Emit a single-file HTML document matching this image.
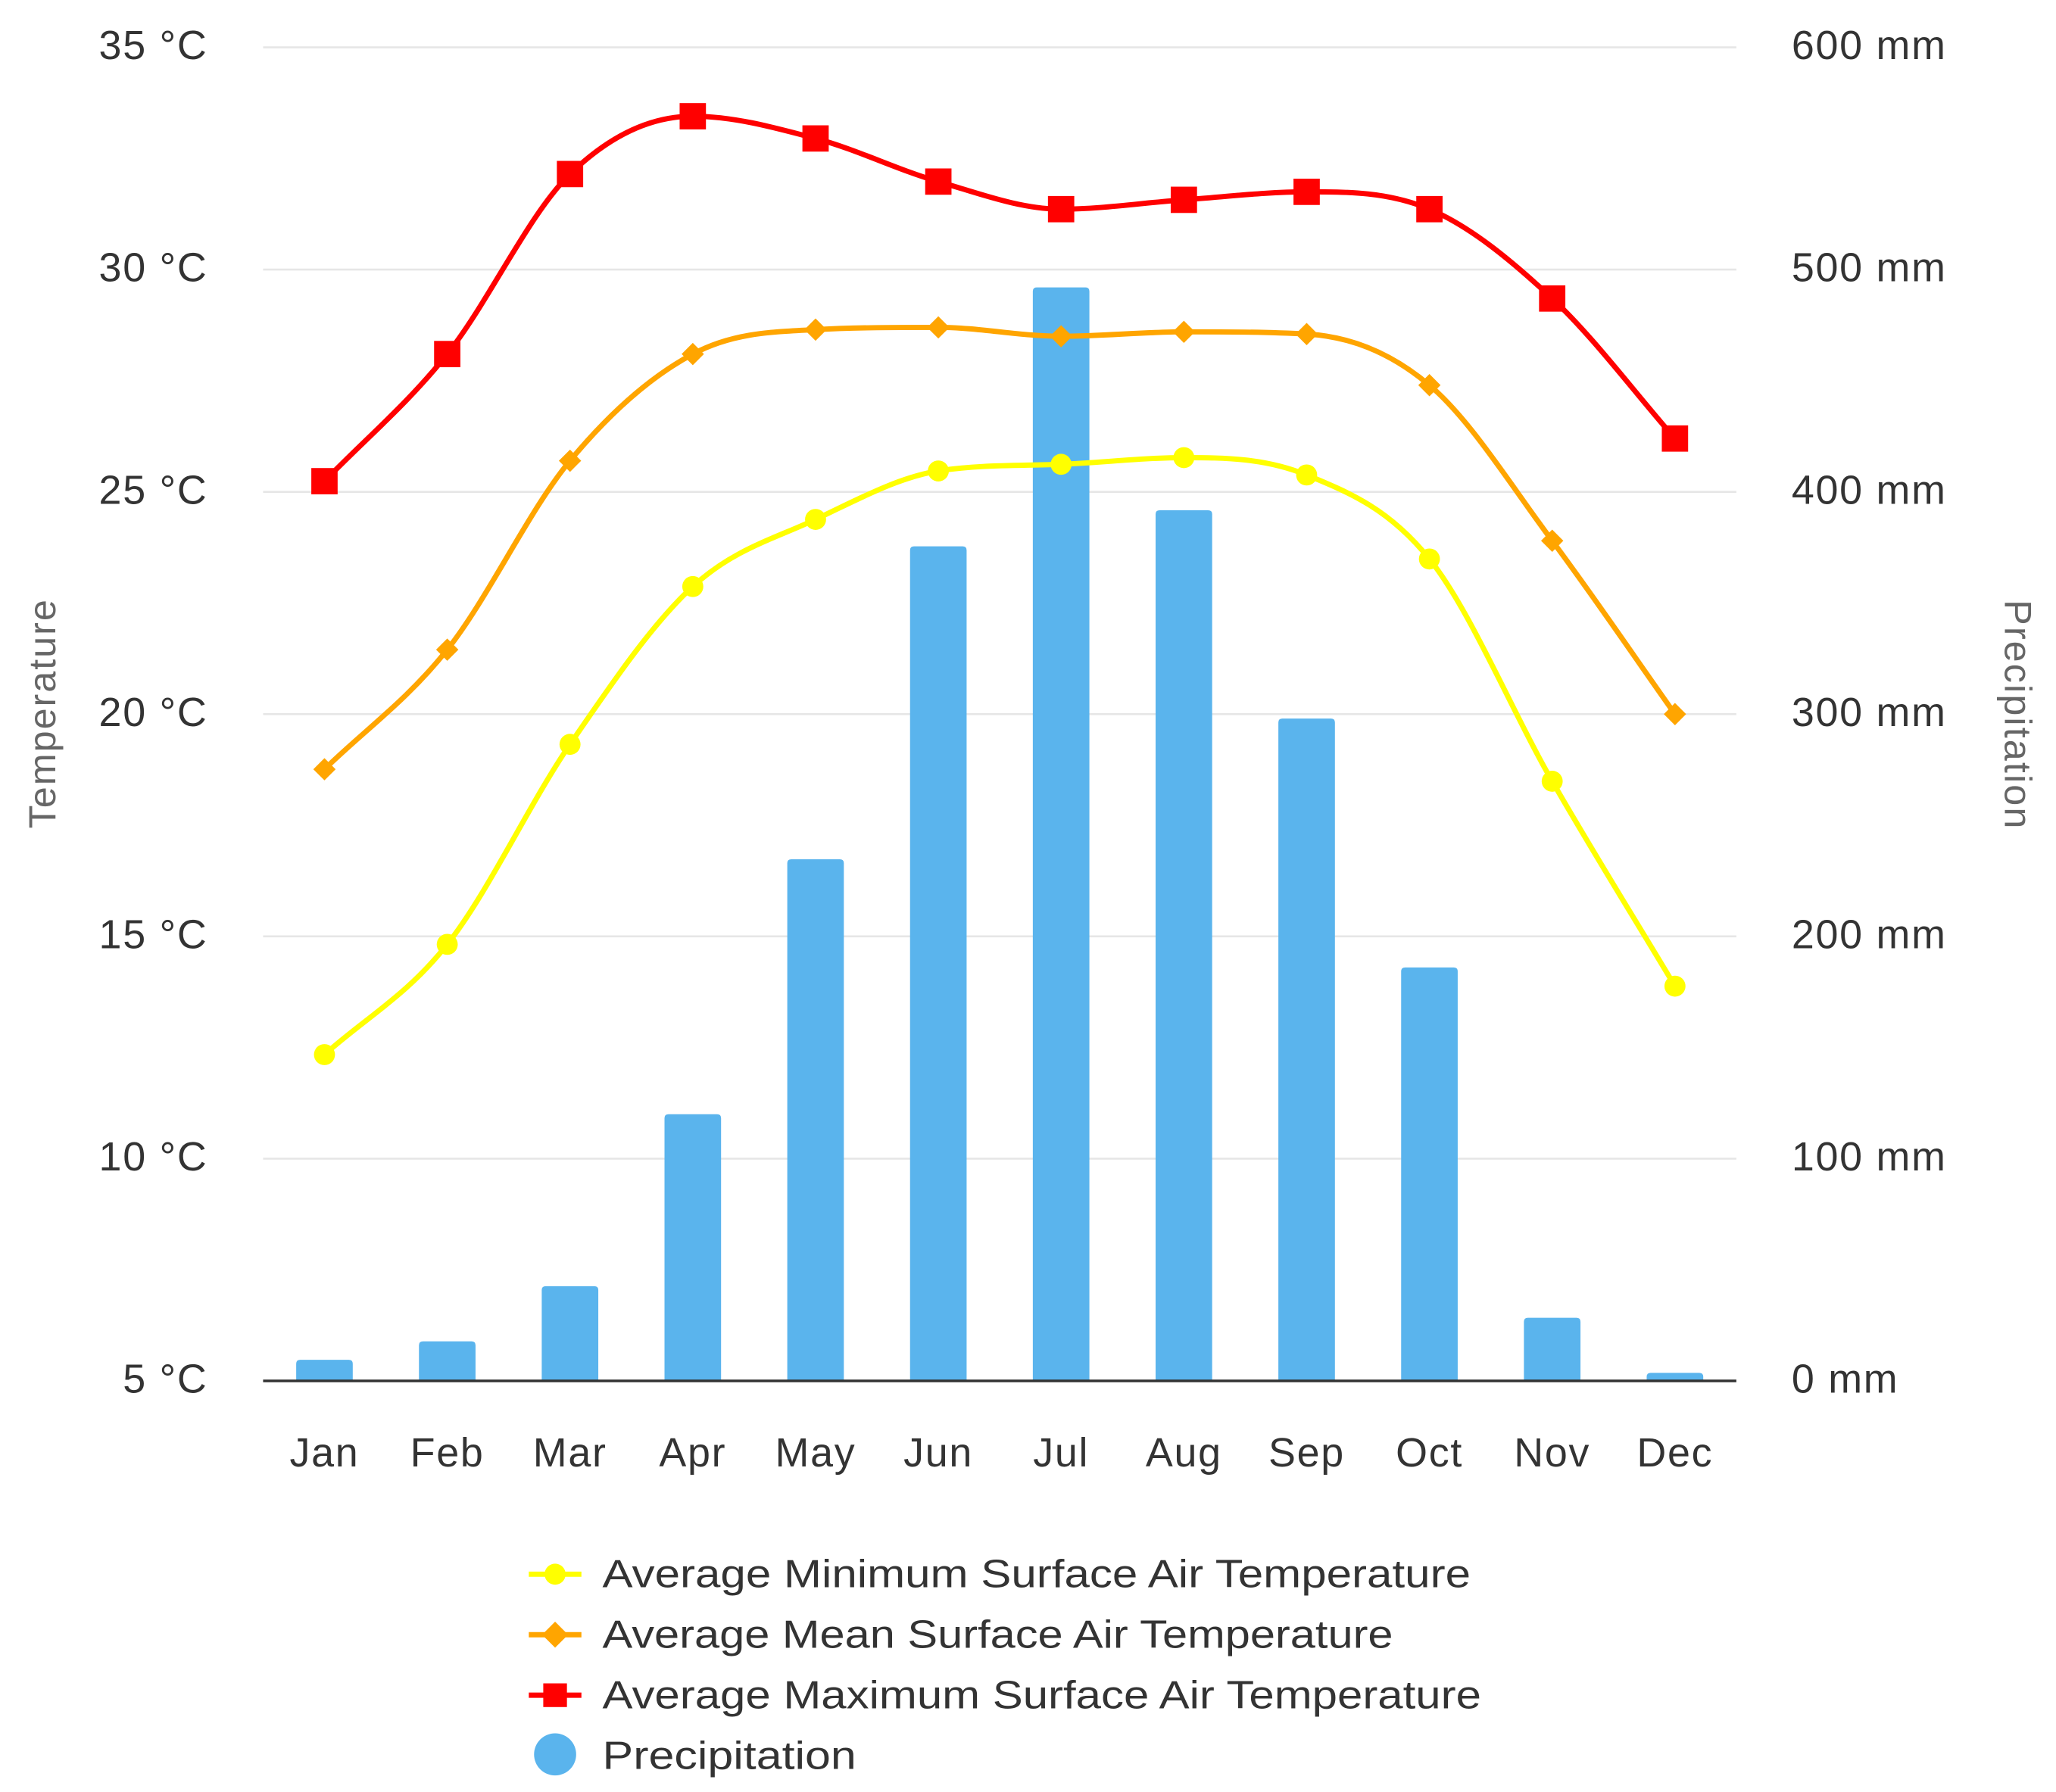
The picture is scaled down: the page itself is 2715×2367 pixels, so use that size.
<!DOCTYPE html>
<html><head><meta charset="utf-8">
<style>
html,body{margin:0;padding:0;background:#fff;}
svg{display:block;font-family:"Liberation Sans",sans-serif;}
</style></head>
<body>
<svg id="chart" width="2715" height="2367" viewBox="0 0 1563 1362.6" preserveAspectRatio="none" xmlns="http://www.w3.org/2000/svg">
<g id="grid"></g>
<g id="bars"></g>
<g id="lines"></g>
<g id="axes"></g>
<text x="0" y="0" transform="translate(42,543) rotate(-90)" text-anchor="middle" font-size="29" fill="#666" textLength="174">Temperature</text>
<text x="0" y="0" transform="translate(1524,543) rotate(90)" text-anchor="middle" font-size="29" fill="#666" textLength="174">Precipitation</text>
<g font-size="30" fill="#333">
 <g>
  <line x1="402" y1="1197" x2="442" y2="1197" stroke="#ffff00" stroke-width="4"/><circle cx="422" cy="1197" r="8" fill="#ffff00"/>
  <text x="458" y="1207" textLength="660" lengthAdjust="spacingAndGlyphs">Average Minimum Surface Air Temperature</text></g>
 <g>
  <line x1="402" y1="1243" x2="442" y2="1243" stroke="#ffa500" stroke-width="4"/><rect x="415" y="1236" width="14" height="14" fill="#ffa500" transform="rotate(45 422 1243)"/>
  <text x="458" y="1253" textLength="601" lengthAdjust="spacingAndGlyphs">Average Mean Surface Air Temperature</text></g>
 <g>
  <line x1="402" y1="1289" x2="442" y2="1289" stroke="#ff0000" stroke-width="4"/><rect x="413" y="1280" width="18" height="18" fill="#ff0000"/>
  <text x="458" y="1299" textLength="668" lengthAdjust="spacingAndGlyphs">Average Maximum Surface Air Temperature</text></g>
 <g>
  <circle cx="422" cy="1334" r="16" fill="#5ab4ed"/>
  <text x="458" y="1345" textLength="193" lengthAdjust="spacingAndGlyphs">Precipitation</text></g>
</g>
</svg>
<script>
const months = ["Jan","Feb","Mar","Apr","May","Jun","Jul","Aug","Sep","Oct","Nov","Dec"];
const tempMax = [25.24,28.1,32.15,33.45,32.95,31.98,31.36,31.57,31.75,31.36,29.35,26.2];
const tempMean = [18.76,21.45,25.7,28.1,28.65,28.7,28.5,28.6,28.55,27.4,23.9,20.0];
const tempMin = [12.34,14.82,19.32,22.87,24.38,25.47,25.62,25.77,25.38,23.49,18.49,13.88];
const precip = [9.5,17.8,42.6,120,234.7,375.5,492,391.7,298,186,28.4,3.6];
const tempTicks = [5,10,15,20,25,30,35];
const precipTicks = [0,100,200,300,400,500,600];

const NS="http://www.w3.org/2000/svg";
const X0=200,X1=1320,YT=36,YB=1050;
const band=(X1-X0)/months.length;
const xPos=i=>X0+band*(i+0.5);
const yT=v=>YB-(v-5)/30*(YB-YT);
const yP=v=>YB-v/600*(YB-YT);
function mk(tag,attrs,parent){const e=document.createElementNS(NS,tag);for(const k in attrs)e.setAttribute(k,attrs[k]);parent.appendChild(e);return e;}
const grid=document.getElementById('grid'),axes=document.getElementById('axes'),bars=document.getElementById('bars'),lines=document.getElementById('lines');

tempTicks.forEach((t,i)=>{
 const y=yT(t);
 if(t!==5){const g=mk('line',{x1:X0,x2:X1,y1:y,y2:y,stroke:'#e6e6e6','stroke-width':1.5},grid);
 
 }
 const l=mk('text',{x:158,y:y+9,'text-anchor':'end','font-size':31,'letter-spacing':1,fill:'#333'},axes);l.textContent=t+' °C';
 
 
});
precipTicks.forEach(p=>{
 const l=mk('text',{x:1362,y:yP(p)+9,'text-anchor':'start','font-size':31,'letter-spacing':1,fill:'#333'},axes);l.textContent=p+' mm';
 
 
});
const base=mk('line',{x1:X0,x2:X1,y1:YB,y2:YB,stroke:'#333','stroke-width':2},axes);


months.forEach((m,i)=>{
 const l=mk('text',{x:xPos(i),y:1115,'text-anchor':'middle','font-size':31,'letter-spacing':1,fill:'#333'},axes);l.textContent=m;
 
 
});
precip.forEach((p,i)=>{
 const w=43,x=xPos(i)-w/2,y=yP(p),h=YB-y,r=Math.min(3,h/2);
 const b=mk('path',{d:`M${x},${YB}V${y+r}Q${x},${y} ${x+r},${y}H${x+w-r}Q${x+w},${y} ${x+w},${y+r}V${YB}Z`,fill:'#5ab4ed'},bars);
 
 
});
function monotone(pts){
 const n=pts.length,dx=[],m=[],t=[];
 for(let i=0;i<n-1;i++){dx.push(pts[i+1][0]-pts[i][0]);m.push((pts[i+1][1]-pts[i][1])/dx[i]);}
 t[0]=m[0];t[n-1]=m[n-2];
 for(let i=1;i<n-1;i++){t[i]=(m[i-1]*m[i]<=0)?0:(m[i-1]+m[i])/2;}
 for(let i=0;i<n-1;i++){if(m[i]===0){t[i]=t[i+1]=0;continue;}const a=t[i]/m[i],b=t[i+1]/m[i],s=a*a+b*b;if(s>9){const k=3/Math.sqrt(s);t[i]=k*a*m[i];t[i+1]=k*b*m[i];}}
 let d=`M${pts[0][0]},${pts[0][1]}`;
 for(let i=0;i<n-1;i++){const h=dx[i]/3;d+=`C${pts[i][0]+h},${pts[i][1]+t[i]*h} ${pts[i+1][0]-h},${pts[i+1][1]-t[i+1]*h} ${pts[i+1][0]},${pts[i+1][1]}`;}
 return d;
}
function series(data,color,marker,name){
 const pts=data.map((v,i)=>[xPos(i),yT(v)]);
 const p=mk('path',{d:monotone(pts),fill:'none',stroke:color,'stroke-width':4},lines);
 
 
 pts.forEach(([x,y],i)=>{
  let e;
  if(marker==='circle')e=mk('circle',{cx:x,cy:y,r:8,fill:color},lines);
  else if(marker==='diamond')e=mk('rect',{x:x-6,y:y-6,width:12,height:12,fill:color,transform:`rotate(45 ${x} ${y})`},lines);
  else e=mk('rect',{x:x-10,y:y-10,width:20,height:20,fill:color},lines);
  
  
 });
}
series(tempMin,'#ffff00','circle','min-temp');
series(tempMean,'#ffa500','diamond','mean-temp');
series(tempMax,'#ff0000','square','max-temp');
</script>
</body></html>
